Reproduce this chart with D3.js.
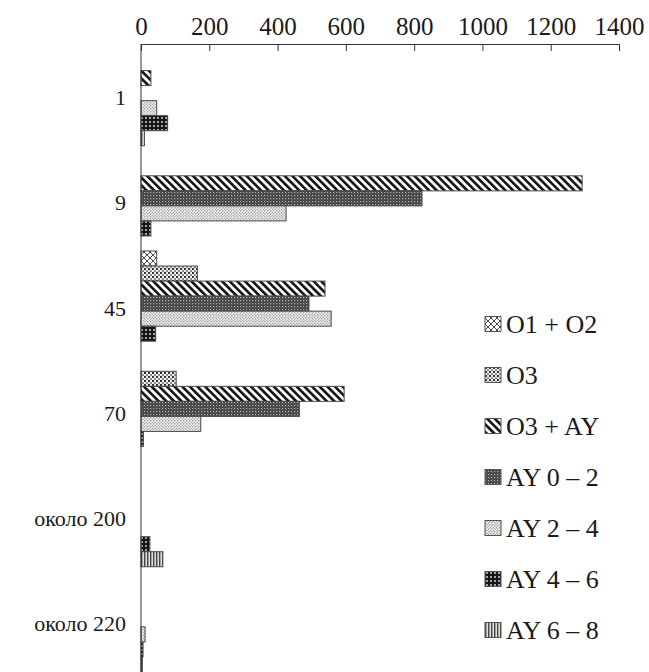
<script src="https://d3js.org/d3.v7.min.js"></script>
<style>
  body { margin: 0; background: #fff; }
  svg, svg text { font-family: "Liberation Serif", "Times New Roman", "DejaVu Serif", serif !important; }
  text { fill: #1a1a1a; }
</style>
<div id="chart"></div>
<script>
// data
categories = ["1", "9", "45", "70", "около 200", "около 220"]
seriesNames = ["O1 + O2", "O3", "O3 + AY", "AY 0 – 2", "AY 2 – 4", "AY 4 – 6", "AY 6 – 8"]
o1o2  = [0, 0, 46, 0, 0, 0]
o3    = [0, 0, 165, 103, 0, 0]
o3ay  = [29, 1292, 539, 595, 0, 0]
ay0_2 = [0, 823, 492, 464, 0, 0]
ay2_4 = [46, 425, 557, 175, 0, 12]
ay4_6 = [78, 29, 43, 7, 26, 6]
ay6_8 = [10, 0, 0, 0, 64, 4]
xTicks = [0, 200, 400, 600, 800, 1000, 1200, 1400]

seriesValues = [o1o2, o3, o3ay, ay0_2, ay2_4, ay4_6, ay6_8]
patternIds = ["p-cross", "p-o3", "p-diag", "p-ay02", "p-ay24", "p-ay46", "p-ay68"]

width = 649
height = 672

svg = d3.select('#chart')
    .append('svg')
    .attr('width', width)
    .attr('height', height)
    .attr('font-family', '"Liberation Serif", serif')

/// patterns
defs = svg.append('defs')

function pat(id, w, h, bg) {
  p = defs.append('pattern')
    .attr('id', id)
    .attr('patternUnits', 'userSpaceOnUse')
    .attr('width', w)
    .attr('height', h)
  p.append('rect').attr('width', w).attr('height', h).attr('fill', bg)
  return p
}

p = pat('p-cross', 6, 6, '#fff')
p.append('path').attr('d', 'M0,0L6,6M6,0L0,6').attr('stroke', '#333').attr('stroke-width', 0.9)

p = pat('p-o3', 4, 4, '#eee')
p.append('circle').attr('cx', 1).attr('cy', 1).attr('r', 1.05).attr('fill', '#1a1a1a')
p.append('circle').attr('cx', 3).attr('cy', 3).attr('r', 0.85).attr('fill', '#333')

p = pat('p-diag', 5.4, 5.4, '#fff').attr('patternTransform', 'rotate(-45)')
p.append('rect').attr('width', 2.6).attr('height', 5.4).attr('fill', '#111')

p = pat('p-ay02', 3, 3, '#3c3c3c')
p.append('rect').attr('x', 0).attr('y', 0).attr('width', 1.2).attr('height', 1.2).attr('fill', '#bbb')
p.append('rect').attr('x', 1.5).attr('y', 1.5).attr('width', 1).attr('height', 1).attr('fill', '#888')

p = pat('p-ay24', 3, 3, '#eeeeee')
p.append('circle').attr('cx', 0.8).attr('cy', 0.8).attr('r', 0.65).attr('fill', '#666')
p.append('circle').attr('cx', 2.3).attr('cy', 2.3).attr('r', 0.6).attr('fill', '#888')

p = pat('p-ay46', 4, 4, '#151515')
p.append('circle').attr('cx', 2).attr('cy', 2).attr('r', 0.9).attr('fill', '#e8e8e8')

p = pat('p-ay68', 3, 3, '#e0e0e0')
p.append('rect').attr('width', 1.4).attr('height', 3).attr('fill', '#444')

/// scales
x = d3.scaleLinear().domain([0, 1400]).range([141, 619])
y = d3.scaleBand().domain(categories).range([40.5, 672]).padding(0)
ySub = d3.scaleBand().domain(d3.range(seriesNames.length)).range([0, y.bandwidth()]).padding(0)

rows = []
seriesValues.forEach(function(vals, s) {
  vals.forEach(function(v, c) {
    if (v > 0) rows.push({cat: categories[c], s: s, v: v})
  })
})

svg.append('g')
  .selectAll('rect')
  .data(rows)
  .enter().append('rect')
    .attr('x', x(0))
    .attr('y', d => y(d.cat) + ySub(d.s))
    .attr('width', d => x(d.v) - x(0))
    .attr('height', ySub.bandwidth())
    .attr('fill', d => 'url(#' + patternIds[d.s] + ')')
    .attr('stroke', '#4a4a4a')
    .attr('stroke-width', 1)

/// top axis
xAxis = svg.append('g')
  .attr('transform', 'translate(0,44)')
  .call(d3.axisTop(x).tickValues(xTicks).tickFormat(d3.format('d'))
    .tickSizeInner(-7).tickSizeOuter(0).tickPadding(9))
xAxis.attr('font-family', null)
xAxis.selectAll('text').attr('font-size', 25).attr('fill', '#1a1a1a')
xAxis.selectAll('line, path').attr('stroke', '#333')

/// left axis
yAxis = svg.append('g')
  .attr('transform', 'translate(141,0)')
  .call(d3.axisLeft(y).tickSize(0).tickPadding(15))
yAxis.attr('font-family', null)
yAxis.select('.domain').remove()
yAxis.selectAll('text').attr('font-size', 22).attr('fill', '#1a1a1a').attr('dy', '0.55em')
svg.append('line')
  .attr('x1', 141).attr('x2', 141)
  .attr('y1', 44).attr('y2', 672)
  .attr('stroke', '#333')

/// legend
legend = svg.append('g')
  .selectAll('g')
  .data(seriesNames)
  .enter().append('g')
    .attr('transform', (d, i) => 'translate(485,' + (324 + i * 51) + ')')

legend.append('rect')
  .attr('x', 0).attr('y', -7.5)
  .attr('width', 16).attr('height', 15)
  .attr('fill', (d, i) => 'url(#' + patternIds[i] + ')')
  .attr('stroke', '#555')

legend.append('text')
  .attr('x', 21)
  .attr('y', 8.5)
  .attr('font-size', 26)
  .text(d => d)
</script>
